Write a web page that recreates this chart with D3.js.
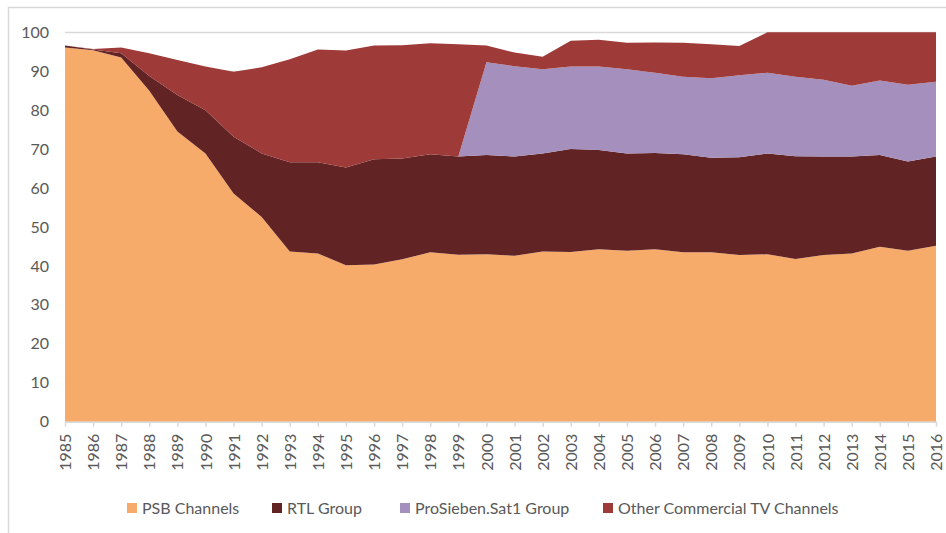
<!DOCTYPE html>
<html>
<head>
<meta charset="utf-8">
<script src="https://cdn.jsdelivr.net/npm/d3@7"></script>
<style>
  body { margin: 0; background: #fff; }
  svg { display: block; font-family: Lato, "Open Sans", sans-serif; }
</style>
</head>
<body>
<div id="chart"></div>
<script>
  var years = d3.range(1985, 2017);

  var seriesNames = ["PSB Channels", "RTL Group", "ProSieben.Sat1 Group", "Other Commercial TV Channels"];
  var seriesColors = ["#F7AB6A", "#622324", "#A48FBD", "#9E3A38"];

  var psb = [96.1, 95.4, 93.5, 85.0, 74.5, 68.9, 58.6, 52.6, 43.7, 43.2, 40.2, 40.4, 41.7, 43.5, 42.9, 43.0,
             42.6, 43.7, 43.6, 44.3, 43.9, 44.3, 43.5, 43.5, 42.8, 43.0, 41.8, 42.8, 43.2, 44.9, 43.9, 45.2];
  var rtl = [0.5, 0.2, 1.1, 3.8, 9.4, 11.1, 14.6, 16.3, 22.9, 23.4, 25.1, 27.0, 25.9, 25.2, 25.2, 25.5,
             25.5, 25.2, 26.4, 25.5, 25.0, 24.7, 25.2, 24.3, 25.1, 25.9, 26.4, 25.3, 24.9, 23.6, 22.9, 22.9];
  var proSieben = [0, 0, 0, 0, 0, 0, 0, 0, 0, 0, 0, 0, 0, 0, 0, 23.8,
                   23.2, 21.6, 21.2, 21.4, 21.6, 20.6, 19.9, 20.4, 21.1, 20.7, 20.4, 19.7, 18.2, 19.1, 19.7, 19.2];
  var other = [0, 0.1, 1.5, 5.8, 9.0, 11.2, 16.7, 22.1, 26.5, 29.0, 30.0, 29.2, 29.1, 28.5, 28.8, 4.3,
               3.5, 3.2, 6.6, 6.9, 6.8, 7.8, 8.7, 8.7, 7.5, 10.4, 11.4, 12.2, 13.7, 12.4, 13.5, 12.7];

  var yTicks = d3.range(0, 101, 10);

(function() {
  var width = 946, height = 533;
  var plotLeft = 65, plotRight = 936, plotTop = 32.3, plotBottom = 421.7;

  var table = years.map(function(yr, i) {
    return { year: yr, s0: psb[i], s1: rtl[i], s2: proSieben[i], s3: other[i] };
  });

  var x = d3.scaleLinear().domain([1985, 2016]).range([plotLeft, plotRight]);
  var y = d3.scaleLinear().domain([0, 100]).range([plotBottom, plotTop]);

  var svg = d3.select("#chart").append("svg")
    .attr("width", width).attr("height", height);

  // outer frame
  svg.append("rect")
    .attr("x", 8.5).attr("y", 7.5).attr("width", 960).attr("height", 560)
    .attr("fill", "none").attr("stroke", "#d9d9d9").attr("stroke-width", 1.5);

  // gridlines
  svg.append("g").selectAll("line").data(yTicks.filter(function(d) { return d > 0; })).enter()
    .append("line")
    .attr("x1", plotLeft).attr("x2", plotRight)
    .attr("y1", function(d) { return Math.round(y(d)) + 0.5; })
    .attr("y2", function(d) { return Math.round(y(d)) + 0.5; })
    .attr("stroke", "#d9d9d9").attr("stroke-width", 1.5);

  var stack = d3.stack().keys(["s0", "s1", "s2", "s3"]);
  var layers = stack(table);

  var area = d3.area()
    .x(function(d) { return x(d.data.year); })
    .y0(function(d) { return y(d[0]); })
    .y1(function(d) { return y(d[1]); });

  svg.append("g").selectAll("path").data(layers).enter()
    .append("path")
    .attr("d", area)
    .attr("fill", function(d, i) { return seriesColors[i]; });

  // y labels
  svg.append("g").selectAll("text").data(yTicks).enter()
    .append("text")
    .attr("x", 49)
    .attr("y", function(d) { return y(d); })
    .attr("dy", "0.35em")
    .attr("text-anchor", "end")
    .attr("fill", "#595959")
    .style("font-size", "16px")
    .text(function(d) { return d; });

  // x axis
  var xAxis = d3.axisBottom(x)
    .tickValues(years)
    .tickFormat(d3.format("d"))
    .tickSize(5)
    .tickSizeOuter(0);

  var gx = svg.append("g")
    .attr("transform", "translate(0," + plotBottom + ")")
    .call(xAxis);
  gx.select(".domain").attr("stroke", "#d9d9d9").attr("stroke-width", 1.5);
  gx.selectAll(".tick line").attr("stroke", "#d9d9d9").attr("stroke-width", 1.5);
  gx.selectAll(".tick text")
    .attr("transform", "rotate(-90)")
    .attr("x", -12).attr("y", 0)
    .attr("dy", "0.35em")
    .attr("text-anchor", "end")
    .attr("fill", "#595959")
    .style("font-size", "16px")
    .style("font-family", "Lato, sans-serif");

  // legend
  var legendX = [127, 272, 400, 603];
  var legend = svg.append("g").selectAll("g").data(seriesNames).enter()
    .append("g")
    .attr("transform", function(d, i) { return "translate(" + legendX[i] + ",508)"; });
  legend.append("rect")
    .attr("x", 0).attr("y", -5).attr("width", 10).attr("height", 10)
    .attr("fill", function(d, i) { return seriesColors[i]; });
  legend.append("text")
    .attr("x", 15).attr("y", 0).attr("dy", "0.35em")
    .attr("fill", "#595959")
    .style("font-size", "16px")
    .text(function(d) { return d; });
})();
</script>
</body>
</html>
